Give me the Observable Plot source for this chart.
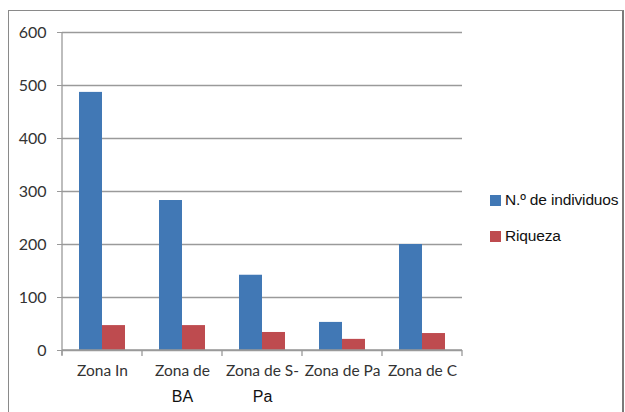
<!DOCTYPE html>
<html>
<head>
<meta charset="utf-8">
<script src="https://cdn.jsdelivr.net/npm/d3@7"></script>
<script src="https://cdn.jsdelivr.net/npm/@observablehq/plot@0.6"></script>
<style>
  html, body { margin: 0; padding: 0; background: #fff; }
  #wrap { position: relative; width: 625px; height: 412px; overflow: hidden; }
  #wrap svg.plot { position: absolute; left: 0; top: 0; }
  #frame { position: absolute; left: 8px; top: 10px; width: 613px; height: 440px;
           border-left: 1px solid #8a8a8a; border-top: 1px solid #8a8a8a;
           border-right: 2px solid #7a7a7a; box-sizing: content-box; }
  #legendClip { position: absolute; left: 0; top: 0; width: 622px; height: 412px; overflow: hidden; }
  .leg { position: absolute; left: 490px; display: flex; align-items: center; white-space: nowrap;
         font-family: "Liberation Sans", Arial, sans-serif; font-size: 15.5px; color: #111; letter-spacing: -0.15px; }
  .leg .sw { width: 11px; height: 11px; margin-right: 4px; }
</style>
</head>
<body>
<div id="wrap">
  <div id="legendClip"></div>
  <div id="frame"></div>
</div>
<script>
// ---- data ----
const zones = ["Zona In", "Zona de BA", "Zona de S-Pa", "Zona de Pa", "Zona de C"];
const labelLine1 = ["Zona In", "Zona de", "Zona de S-", "Zona de Pa", "Zona de C"];
const labelLine2 = ["", "BA", "Pa", "", ""];
const series = ["N.º de individuos", "Riqueza"];
const individuos = [487, 283, 142, 53, 200];
const riqueza = [47, 47, 34, 21, 32];
const yTicks = [0, 100, 200, 300, 400, 500, 600];
const colors = ["#4178b5", "#be4b4f"];

const rows = [];
zones.forEach((z, i) => {
  rows.push({zone: z, series: series[0], value: individuos[i]});
  rows.push({zone: z, series: series[1], value: riqueza[i]});
});
const labels = zones.map((z, i) => ({zone: z, l1: labelLine1[i], l2: labelLine2[i]}));

const plot = Plot.plot({
  width: 625,
  height: 412,
  marginLeft: 60,
  marginRight: 162,
  marginTop: 32,
  marginBottom: 62,
  style: {background: "transparent", overflow: "visible"},
  fx: {domain: zones, paddingInner: 0, paddingOuter: 0, padding: 0, axis: null},
  x: {domain: series, paddingInner: 0, paddingOuter: 0.72, axis: null},
  y: {domain: [0, 600], axis: null},
  color: {domain: series, range: colors},
  marks: [
    Plot.gridY(yTicks, {stroke: "#9a9a9a", strokeOpacity: 1, strokeWidth: 1.3}),
    Plot.barY(rows, {fx: "zone", x: "series", y: "value", fill: "series"}),
    Plot.axisY(yTicks, {tickSize: 5, tickPadding: 11, stroke: "#9a9a9a", fontSize: 16,
      fontFamily: "Lato", fill: "#333", label: null, tickFormat: d => String(d)}),
    Plot.text(labels, {fx: "zone", text: "l1", frameAnchor: "bottom", dy: 25,
      fontFamily: "Lato", fontSize: 15.5, fill: "#333"}),
    Plot.text(labels, {fx: "zone", text: "l2", frameAnchor: "bottom", dy: 51,
      fontFamily: "Liberation Sans", fontSize: 16, fill: "#111"})
  ]
});
plot.classList.add("plot");
document.getElementById("wrap").prepend(plot);

// axis lines and category boundary ticks, from the plot's own scales
const fx = plot.scale("fx");
const ys = plot.scale("y");
const svg = d3.select(plot);
const y0 = ys.apply(0), yTop = ys.apply(600);
const bounds = fx.domain.map(d => fx.apply(d));
bounds.push(fx.apply(fx.domain[fx.domain.length - 1]) + fx.bandwidth);
const g = svg.append("g").attr("stroke", "#9a9a9a").attr("stroke-width", 1.3);
g.append("line").attr("x1", bounds[0]).attr("x2", bounds[0]).attr("y1", yTop).attr("y2", y0 + 5);
g.append("line").attr("x1", bounds[0]).attr("x2", bounds[bounds.length - 1]).attr("y1", y0).attr("y2", y0);
bounds.forEach(b => g.append("line").attr("x1", b).attr("x2", b).attr("y1", y0).attr("y2", y0 + 6));

// legend
const legendClip = document.getElementById("legendClip");
const legTops = [194, 230];
series.forEach((s, i) => {
  const el = document.createElement("div");
  el.className = "leg";
  el.style.top = (legTops[i] - 3) + "px";
  el.innerHTML = `<div class="sw" style="background:${colors[i]}"></div><span>${s}</span>`;
  legendClip.appendChild(el);
});
</script>
</body>
</html>
